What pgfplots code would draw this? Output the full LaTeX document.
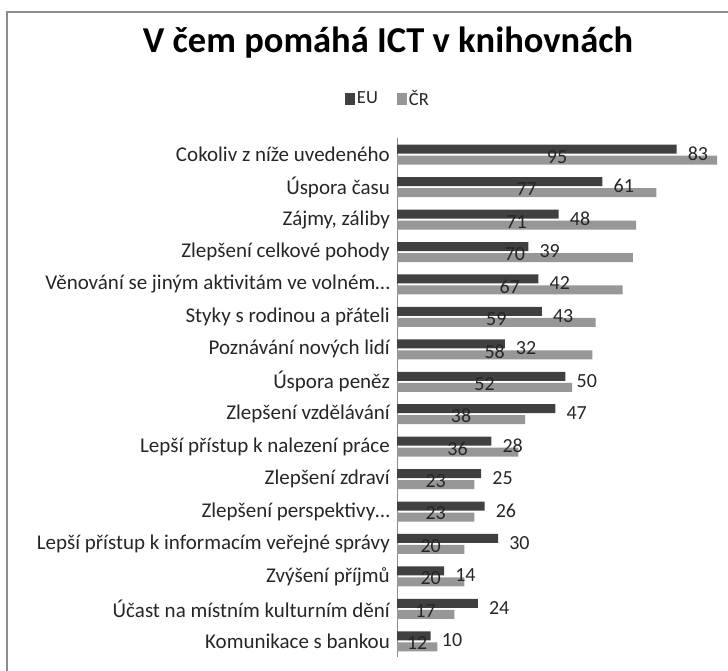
\documentclass[border=0pt]{standalone}
\usepackage{fontspec}
\setmainfont{Carlito}
\usepackage{pgfplots}
\pgfplotsset{compat=1.18}

\definecolor{eu}{HTML}{404040}
\definecolor{cr}{HTML}{979797}
\definecolor{frame}{HTML}{8C8C8C}

\begin{document}
\begin{tikzpicture}[x=1pt,y=1pt]
\useasboundingbox (0,0) rectangle (728,671);
\draw[frame, line width=2pt] (7,-5) -- (7,659) -- (740,659);
\node[font=\bfseries\fontsize{36.5}{40}\selectfont, inner sep=0pt] at (388,628) {V čem pomáhá ICT v knihovnách};

\begin{axis}[
    at={(397pt,13.5pt)}, anchor=south west,
    scale only axis,
    width=320pt, height=519pt,
    xmin=0, xmax=95,
    ymin=-0.5, ymax=15.5,
    hide x axis,
    axis y line*=left,
    y axis line style={frame, line width=1pt},
    ytick={0,...,15},
    yticklabels={Komunikace s bankou, Účast na místním kulturním dění, Zvýšení příjmů,
        Lepší přístup k informacím veřejné správy, Zlepšení perspektivy…, Zlepšení zdraví,
        Lepší přístup k nalezení práce, Zlepšení vzdělávání, Úspora peněz,
        Poznávání nových lidí, Styky s rodinou a přáteli, Věnování se jiným aktivitám ve volném…,
        Zlepšení celkové pohody, {Zájmy, záliby}, Úspora času, Cokoliv z níže uvedeného},
    ytick style={draw=none},
    yticklabel style={font=\fontsize{21}{22}\selectfont, inner sep=0pt, xshift=-7pt, text=black!85},
    /pgf/number format/assume math mode=true,
    bar width=9pt,
    legend columns=2,
    legend style={at={(-0.03,1.077)}, anchor=center, draw=none, fill=none,
        font=\fontsize{18.5}{20}\selectfont, text=black!85,
        /tikz/every odd column/.append style={column sep=1pt},
        /tikz/every even column/.append style={column sep=18pt},
        nodes={inner xsep=1pt}},
    legend image code/.code={\fill[#1] (0pt,-6pt) rectangle (10pt,6pt);},
]
\addplot[xbar, fill=eu, draw=none, bar shift=5.5pt,
    nodes near coords, point meta=x,
    every node near coord/.append style={anchor=west, xshift=11pt, yshift=1pt, inner sep=0pt,
        font=\fontsize{20}{22}\selectfont, text=black!85}]
coordinates {
    (83,15) (61,14) (48,13) (39,12) (42,11) (43,10) (32,9) (50,8)
    (47,7) (28,6) (25,5) (26,4) (30,3) (14,2) (24,1) (10,0)
};
\addlegendentry{EU}
\addplot[xbar, fill=cr, draw=none, bar shift=-5.5pt,
    nodes near coords, point meta=x,
    visualization depends on={x \as \rawx},
    every node near coord/.append style={anchor=center, xshift={-1.6842*\rawx}, yshift=-2pt,
        inner sep=0pt, font=\fontsize{20}{22}\selectfont, text=black!85}]
coordinates {
    (95,15) (77,14) (71,13) (70,12) (67,11) (59,10) (58,9) (52,8)
    (38,7) (36,6) (23,5) (23,4) (20,3) (20,2) (17,1) (12,0)
};
\addlegendentry{ČR}
\end{axis}
\end{tikzpicture}
\end{document}
